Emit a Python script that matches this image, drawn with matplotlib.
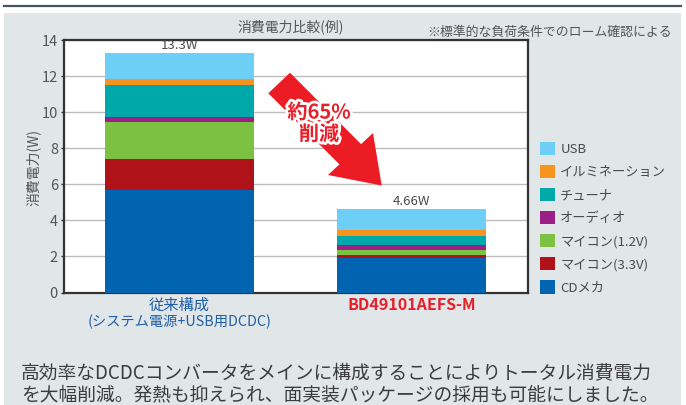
import matplotlib
matplotlib.use("Agg")
import matplotlib.pyplot as plt
import matplotlib.patheffects as pe
from matplotlib.patches import Polygon, Rectangle, Patch
from matplotlib.lines import Line2D
import matplotlib.transforms as mtransforms

plt.rcParams['font.family'] = ['Noto Sans CJK JP', 'DejaVu Sans']

# ---- data ----
categories = ["従来構成", "BD49101AEFS-M"]
sub_label = "(システム電源+USB用DCDC)"
series_names = ["CDメカ", "マイコン(3.3V)", "マイコン(1.2V)", "オーディオ", "チューナ", "イルミネーション", "USB"]
cd_mecha   = [5.68, 1.92]
mcu_33     = [1.72, 0.17]
mcu_12     = [2.06, 0.28]
audio      = [0.28, 0.26]
tuner      = [1.78, 0.51]
illum      = [0.33, 0.34]
usb        = [1.45, 1.18]
totals     = [13.3, 4.66]
total_labels = ["13.3W", "4.66W"]
series_values = [cd_mecha, mcu_33, mcu_12, audio, tuner, illum, usb]
colors = ["#0064B0", "#B01219", "#7DC142", "#9C1F86", "#00A9A9", "#F7941E", "#6DCFF6"]
yticks = [0, 2, 4, 6, 8, 10, 12, 14]

W, H = 686, 405
fig = plt.figure(figsize=(W / 100, H / 100), dpi=100)
fig.patch.set_facecolor("white")

def fx(px): return px / W
def fy(py): return 1 - py / H

# background panel and top rule
fig.add_artist(Rectangle((fx(4), 0), fx(681) - fx(4), fy(12.7), transform=fig.transFigure,
                         facecolor="#E1E6E9", edgecolor="none", zorder=0))
fig.add_artist(Line2D([fx(4), fx(681)], [fy(5.7), fy(5.7)], transform=fig.transFigure,
                      color="#46555E", linewidth=1.6, zorder=1))

ax = fig.add_axes([fx(63.5), fy(292.5), fx(527.5) - fx(63.5), fy(40.3) - fy(292.5)])
ax.set_facecolor("white")

x = [0, 1]
bottom = [0.0, 0.0]
for name, vals, c in zip(series_names, series_values, colors):
    ax.bar(x, vals, bottom=bottom, width=0.64, color=c, label=name, zorder=3, linewidth=0)
    bottom = [b + v for b, v in zip(bottom, vals)]

for xi, t, lab in zip(x, totals, total_labels):
    ax.annotate(lab, (xi, t), xytext=(0, 0.5), textcoords="offset points",
                ha="center", va="bottom", fontsize=9.5, color="#4A4A4A", zorder=5,
                annotation_clip=False)

ax.set_xlim(-0.5, 1.5)
ax.set_ylim(0, 14)
ax.set_yticks(yticks)
ax.set_yticklabels([str(v) for v in yticks], fontsize=10.5, color="#555555")
ax.yaxis.grid(True, color="#BDBDBD", linewidth=1.0, zorder=0)
ax.set_axisbelow(True)
ax.tick_params(axis="y", length=2.5, width=1.0, color="#333333", pad=1.5)
for s in ax.spines.values():
    s.set_color("#333333")
    s.set_linewidth(1.6)

ax.set_xticks(x)
ax.set_xticklabels(categories, fontsize=11)
ax.tick_params(axis="x", length=0, pad=3)
xt = ax.get_xticklabels()
xt[0].set_color("#1F5FA6")
xt[1].set_color("#E8202A")
xt[1].set_fontweight("bold")
xt[1].set_fontsize(11.5)

trans = mtransforms.blended_transform_factory(ax.transData, ax.transAxes)
ax.text(0, (292.5 - 321.5) / 252.2, sub_label, transform=trans, ha="center", va="center",
        fontsize=10.3, color="#1F5FA6")

fig.text(fx(33), fy(168), "消費電力(W)", rotation=90, ha="center", va="center",
         fontsize=10, color="#555555")

fig.text(fx(291), fy(27), "消費電力比較(例)", ha="center", va="center", fontsize=10, color="#555555")
fig.text(fx(671.5), fy(32), "※標準的な負荷条件でのローム確認による", ha="right", va="center",
         fontsize=9.3, color="#555555")

# reduction arrow
pts = [(268.3, 93.3), (290, 72.7), (361.1, 144.1), (373, 133), (381.7, 185.5),
       (328, 175), (339.4, 164.4)]
fig.add_artist(Polygon([(fx(a), fy(b)) for a, b in pts], closed=True, transform=fig.transFigure,
                       facecolor="#EC1C24", edgecolor="none", zorder=10))
fig.text(fx(319), fy(123), "約65%\n削減", ha="center", va="center", fontsize=14.5,
         fontweight="bold", color="#E8202A", linespacing=1.05, zorder=11,
         path_effects=[pe.withStroke(linewidth=4, foreground="white")])

# legend
handles, labels = ax.get_legend_handles_labels()
leg = fig.legend(handles[::-1], labels[::-1], loc="upper left",
                 bbox_to_anchor=(fx(540), fy(142)), bbox_transform=fig.transFigure,
                 frameon=False, fontsize=9.5, handlelength=1.14, handleheight=1.14,
                 handletextpad=0.4, labelspacing=0.69, borderpad=0, borderaxespad=0)
for t in leg.get_texts():
    t.set_color("#4A4A4A")

fig.text(fx(21), fy(373.5), "高効率なDCDCコンバータをメインに構成することによりトータル消費電力",
         ha="left", va="center", fontsize=13.5, color="#3C3C3C")
fig.text(fx(21), fy(395), "を大幅削減。発熱も抑えられ、面実装パッケージの採用も可能にしました。",
         ha="left", va="center", fontsize=13.5, color="#3C3C3C")

fig.savefig("out.png", dpi=100, facecolor=fig.get_facecolor())
